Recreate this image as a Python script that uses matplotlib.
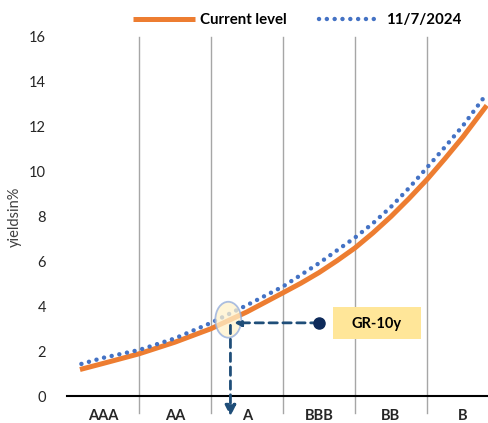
import numpy as np
import matplotlib
matplotlib.use("Agg")
import matplotlib.pyplot as plt
from matplotlib.patches import Ellipse, Rectangle

plt.rcParams['font.family'] = ['Lato', 'DejaVu Sans']

# ratings buckets along the x axis
ratings = ['AAA', 'AA', 'A', 'BBB', 'BB', 'B']

# current level curve (x in rating-bucket units, y in %)
cur_x = [0.18, 0.5, 1.0, 1.5, 2.0, 2.5, 3.0, 3.25, 3.5, 3.75, 4.0, 4.25, 4.5, 4.75,
         5.0, 5.25, 5.5, 5.83]
cur_y = [1.18, 1.45, 1.88, 2.4, 3.0, 3.75, 4.6, 5.03, 5.5, 6.03, 6.6, 7.27, 8.0, 8.8,
         9.65, 10.58, 11.55, 12.95]

# curve as of 11/7/2024
old_x = [0.2, 0.5, 1.0, 1.5, 2.0, 2.5, 3.0, 3.5, 4.0, 4.25, 4.5, 4.75, 5.0, 5.25, 5.5, 5.78]
old_y = [1.43, 1.7, 2.05, 2.57, 3.26, 4.05, 4.88, 5.92, 7.06, 7.7, 8.43, 9.27, 10.18, 11.1,
         12.05, 13.26]

# GR-10y position
gr_x, gr_y = 2.27, 3.3
gr_label = 'GR-10y'

fig = plt.figure(figsize=(4.89, 4.23), dpi=100)
ax = fig.add_axes([67/489, 27/423, 432/489, 359/423])

ax.plot(cur_x, cur_y, color='#ED7D31', lw=3.6, solid_capstyle='butt',
        solid_joinstyle='round', label='Current level', zorder=3)
ax.plot(old_x, old_y, color='#4472C4', lw=3.2, linestyle=(0, (0.01, 1.75)),
        dash_capstyle='round', label='11/7/2024', zorder=4)

# bucket separators running below the axis
for i in range(1, len(ratings)):
    ax.plot([i, i], [-0.75, 16], color='#A6A6A6', lw=1, clip_on=False, zorder=1)
ax.plot([0, 6], [0, 0], color='black', lw=1.5, clip_on=False, zorder=2)

# highlight and arrows for GR-10y
ax.add_patch(Ellipse((gr_x - 0.03, gr_y + 0.1), 0.36, 1.6, facecolor='#FFF2CC', alpha=0.75,
                     edgecolor='#8FAADC', lw=1.3, zorder=5))
ax.annotate('', xy=(gr_x + 0.05, 3.26), xytext=(3.5, 3.26),
            arrowprops=dict(arrowstyle='-|>', color='#1F4E79', lw=2, linestyle=(0, (3, 2)),
                            mutation_scale=10, shrinkA=0, shrinkB=0), zorder=6)
ax.plot([3.5], [3.26], 'o', color='#0D2A5A', ms=8, zorder=7)
ax.annotate('', xy=(gr_x, -0.9), xytext=(gr_x, 3.15),
            arrowprops=dict(arrowstyle='-|>', color='#1F4E79', lw=2, linestyle=(0, (3, 2)),
                            mutation_scale=16, shrinkA=0, shrinkB=0),
            annotation_clip=False, zorder=6)
ax.add_patch(Rectangle((3.69, 2.54), 1.23, 1.43, facecolor='#FFE699', edgecolor='none', zorder=2))
ax.text(4.3, 3.22, gr_label, ha='center', va='center', fontsize=10.5, fontweight='bold', zorder=3)

ax.set_xlim(0, 6)
ax.set_ylim(0, 16)
ax.set_yticks(range(0, 17, 2))
ax.set_xticks([i + 0.5 for i in range(len(ratings))])
ax.set_xticklabels(ratings, fontweight='bold', fontsize=10)
ax.tick_params(length=0, labelsize=10.5, colors='#262626')
ax.tick_params(axis='y', pad=15)
ax.tick_params(axis='x', pad=9)
for s in ax.spines.values():
    s.set_visible(False)
ax.set_ylabel('yieldsin%', fontsize=10.5, color='#404040')
ax.yaxis.set_label_coords(-0.104, 0.5)

leg = ax.legend(loc='center left', bbox_to_anchor=(66/432, 1.047), ncol=2, frameon=False,
                handlelength=4.1, handletextpad=0.4, columnspacing=2.1, borderpad=0,
                borderaxespad=0, prop={'weight': 'bold', 'size': 10.8})

fig.savefig('out.png', dpi=100)
